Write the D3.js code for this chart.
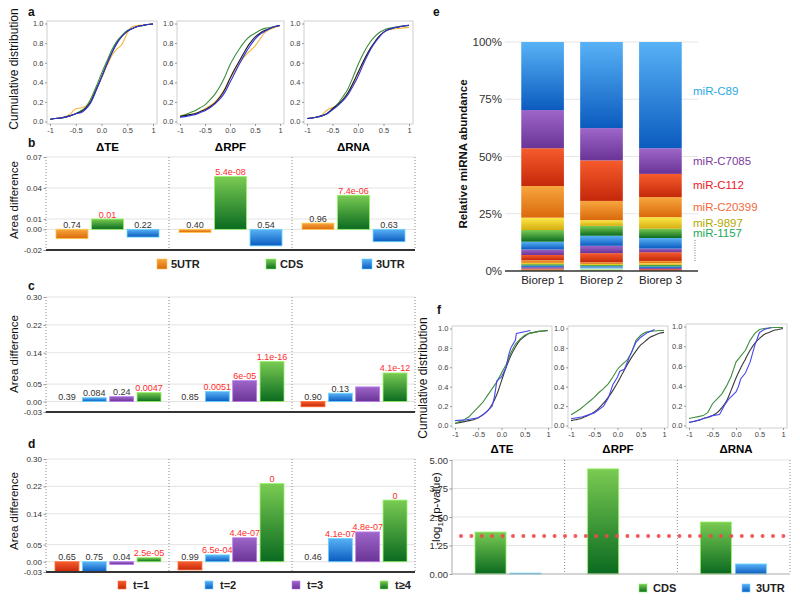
<!DOCTYPE html>
<html><head><meta charset="utf-8">
<script src="https://cdn.jsdelivr.net/npm/d3@7"></script>
<style>body{margin:0;background:#fff;} svg{display:block;}</style>
</head><body>
<script>
// ================= DATA =================
const measures = ["ΔTE","ΔRPF","ΔRNA"];
const cdfGrid = [-1,-0.9,-0.8,-0.7,-0.6,-0.5,-0.4,-0.3,-0.2,-0.1,0,0.1,0.2,0.3,0.4,0.5,0.6,0.7,0.8,0.9,1];
const cdfYTicks = [0,0.2,0.4,0.6,0.8,1];
const cdfXTicks = [-1,-0.5,0,0.5,1];
const cdfXTickLabels = ["-1","-0.5","0.0","0.5","1"];

// panel a (cumulative distributions, values at cdfGrid)
const aTE_orange = [0.02,0.03,0.035,0.05,0.08,0.13,0.14,0.16,0.22,0.33,0.44,0.56,0.67,0.74,0.79,0.90,0.97,0.98,0.985,0.99,0.995];
const aTE_green  = [0.02,0.03,0.035,0.045,0.06,0.08,0.11,0.15,0.24,0.36,0.49,0.61,0.73,0.82,0.88,0.93,0.95,0.97,0.98,0.99,0.995];
const aTE_black  = [0.02,0.03,0.035,0.045,0.06,0.08,0.10,0.14,0.21,0.33,0.45,0.58,0.70,0.80,0.87,0.92,0.95,0.97,0.98,0.99,0.995];
const aTE_blue   = [0.02,0.03,0.035,0.045,0.06,0.08,0.09,0.13,0.20,0.32,0.45,0.58,0.70,0.80,0.87,0.92,0.95,0.97,0.98,0.99,0.995];
const aRPF_orange = [0.06,0.065,0.07,0.085,0.10,0.13,0.16,0.20,0.26,0.34,0.44,0.52,0.60,0.67,0.72,0.77,0.84,0.91,0.94,0.96,0.98];
const aRPF_green  = [0.05,0.07,0.09,0.11,0.14,0.17,0.22,0.28,0.36,0.46,0.58,0.67,0.75,0.82,0.87,0.90,0.93,0.95,0.96,0.97,0.98];
const aRPF_black  = [0.05,0.06,0.07,0.08,0.10,0.12,0.15,0.19,0.25,0.33,0.44,0.54,0.63,0.72,0.80,0.86,0.90,0.93,0.95,0.97,0.98];
const aRPF_blue   = [0.045,0.05,0.06,0.07,0.09,0.11,0.14,0.18,0.23,0.30,0.40,0.50,0.60,0.69,0.77,0.84,0.89,0.92,0.95,0.97,0.98];
const aRNA_orange = [0.03,0.035,0.045,0.07,0.12,0.14,0.17,0.22,0.29,0.38,0.49,0.60,0.70,0.79,0.86,0.91,0.935,0.945,0.95,0.955,0.96];
const aRNA_green  = [0.03,0.035,0.045,0.06,0.085,0.13,0.18,0.25,0.33,0.45,0.58,0.69,0.78,0.85,0.90,0.93,0.95,0.96,0.97,0.975,0.98];
const aRNA_black  = [0.03,0.035,0.045,0.06,0.085,0.13,0.17,0.22,0.29,0.39,0.50,0.61,0.71,0.79,0.86,0.91,0.94,0.955,0.965,0.975,0.98];
const aRNA_blue   = [0.03,0.035,0.045,0.06,0.08,0.12,0.16,0.21,0.27,0.36,0.46,0.58,0.69,0.78,0.85,0.91,0.94,0.955,0.965,0.975,0.985];

// panel b
const regions = ["5UTR","CDS","3UTR"];
const b5UTR = [-0.009,-0.003,0.006];
const bCDS  = [0.010,0.051,0.033];
const b3UTR = [-0.0075,-0.016,-0.012];
const b5UTRLabels = ["0.74","0.40","0.96"];
const bCDSLabels  = ["0.01","5.4e-08","7.4e-06"];
const b3UTRLabels = ["0.22","0.54","0.63"];
const bTicks = [0.07,0.04,0.01,0.00,-0.02];

// panel c
const tClasses = ["t=1","t=2","t=3","t≥4"];
const cT1 = [0,0,-0.015];
const cT2 = [0.011,0.029,0.024];
const cT3 = [0.014,0.060,0.042];
const cT4 = [0.026,0.115,0.082];
const cT1Labels = ["0.39","0.85","0.90"];
const cT2Labels = ["0.084","0.0051","0.13"];
const cT3Labels = ["0.24","6e-05",""];
const cT4Labels = ["0.0047","1.1e-16","4.1e-12"];
const cdTicks = [0.30,0.22,0.14,0.05,0.00,-0.03];

// panel d
const dT1 = [-0.03,-0.024,0];
const dT2 = [-0.03,0.020,0.068];
const dT3 = [-0.008,0.070,0.087];
const dT4 = [0.012,0.228,0.180];
const dT1Labels = ["0.65","0.99","0.46"];
const dT2Labels = ["0.75","6.5e-04","4.1e-07"];
const dT3Labels = ["0.04","4.4e-07","4.8e-07"];
const dT4Labels = ["2.5e-05","0","0"];

// panel e (relative abundance %, top to bottom)
const bioreps = ["Biorep 1","Biorep 2","Biorep 3"];
const segNames = ["miR-C89","miR-C7085","miR-C112","miR-C20399","miR-9897","miR-1157",
  "o1","o2","o3","o4","o5","o6","o7","o8","o9","o10","o11","o12","o13"];
const rep1Shares = [29.7,16.7,16.5,13.8,5.4,5.1,3.4,2.4,2.3,1.1,0.6,0.6,0.7,0.6,0.4,0.4,0.3,0,0];
const rep2Shares = [37.6,14.1,17.7,8.4,2.5,4.3,4.4,3.2,4.0,0.7,0.5,0.5,0.6,0,0,0,0,0.6,0.9];
const rep3Shares = [46.4,11.2,10.1,8.8,5.0,4.1,4.6,1.6,3.8,1.0,0.7,0.7,0.7,0.5,0.4,0.4,0,0,0];
const labelledMiRs = ["miR-C89","miR-C7085","miR-C112","miR-C20399","miR-9897","miR-1157"];
const eTicks = [0,25,50,75,100];

// panel f (cumulative distributions)
const fTE_black  = [0.02,0.03,0.04,0.05,0.06,0.08,0.11,0.15,0.22,0.32,0.46,0.60,0.72,0.81,0.88,0.92,0.95,0.96,0.97,0.975,0.98];
const fTE_green  = [0.02,0.04,0.06,0.09,0.14,0.19,0.24,0.31,0.38,0.45,0.54,0.63,0.75,0.84,0.89,0.93,0.95,0.96,0.97,0.975,0.98];
const fTE_blue   = [[-1,0.05],[-0.75,0.06],[-0.5,0.08],[-0.4,0.11],[-0.3,0.15],[-0.2,0.2],[-0.15,0.3],[-0.1,0.46],[0,0.5],[0.05,0.55],[0.1,0.6],[0.15,0.72],[0.2,0.8],[0.3,0.88],[0.32,0.95],[0.62,0.98]];
const fRPF_black = [0.05,0.06,0.07,0.09,0.11,0.14,0.18,0.23,0.29,0.36,0.44,0.53,0.62,0.70,0.77,0.83,0.87,0.91,0.93,0.95,0.96];
const fRPF_green = [0.11,0.14,0.17,0.21,0.25,0.29,0.34,0.38,0.43,0.50,0.58,0.63,0.67,0.75,0.88,0.93,0.96,0.97,0.975,0.98,0.98];
const fRPF_blue  = [[-1,0.07],[-0.75,0.09],[-0.5,0.13],[-0.3,0.2],[-0.2,0.28],[-0.1,0.42],[0,0.5],[0.05,0.56],[0.15,0.58],[0.25,0.7],[0.4,0.86],[0.5,0.91],[0.65,0.96],[0.8,0.99]];
const fRNA_black = [0.03,0.04,0.05,0.07,0.08,0.10,0.13,0.18,0.25,0.36,0.48,0.58,0.67,0.76,0.83,0.88,0.92,0.94,0.96,0.97,0.98];
const fRNA_green = [0.07,0.08,0.09,0.10,0.13,0.22,0.27,0.32,0.40,0.50,0.64,0.70,0.76,0.86,0.93,0.97,0.98,0.985,0.99,0.99,0.99];
const fRNA_blue  = [[-1,0.03],[-0.75,0.06],[-0.5,0.1],[-0.35,0.11],[-0.25,0.2],[-0.15,0.27],[0,0.34],[0.05,0.39],[0.1,0.47],[0.2,0.53],[0.3,0.64],[0.4,0.81],[0.5,0.94],[0.6,0.97],[0.75,0.99]];

// panel f bars (-log10 p)
const fRegions = ["CDS","3UTR"];
const fCDS  = [1.84,4.61,2.28];
const f3UTR = [0.04,0,0.44];
const fThreshold = 1.67;
const fTicks = [5,3.75,2.5,1.25,0];

// ================= DRAWING =================
const FONT = "'Liberation Sans', Arial, Helvetica, sans-serif";
const svg = d3.select("body").append("svg").attr("width",800).attr("height",602)
  .style("font-family",FONT);
const defs = svg.append("defs");
const gradStops = {
  orange:["#f7a63e","#da690c"], green:["#7acb52","#0a6a20"], blue:["#58b2f6","#0b5bbf"],
  purple:["#9e66c9","#6a3396"], red:["#f65c2c","#c4280a"], yellow:["#fce948","#d5ad10"],
  lightblue:["#c4e6fa","#8cc9ef"], lightgreen:["#d2f0ae","#9fd675"]
};
Object.entries(gradStops).forEach(([k,[c0,c1]])=>{
  const g = defs.append("linearGradient").attr("id","g-"+k).attr("x1",0).attr("y1",0).attr("x2",0).attr("y2",1);
  g.append("stop").attr("offset",0).attr("stop-color",c0);
  g.append("stop").attr("offset",1).attr("stop-color",c1);
});
const seriesColor = {"5UTR":"orange","CDS":"green","3UTR":"blue","t=1":"red","t=2":"blue","t=3":"purple","t≥4":"green"};
const edgeOf = k => d3.color(gradStops[k][0]).brighter(0.5).formatHex();

function styleAxis(a, fs){
  a.attr("font-family",FONT).attr("font-size",fs);
  a.select(".domain").remove();
  a.selectAll(".tick line").attr("stroke","#999");
  a.selectAll(".tick text").attr("fill","#444");
}

// ---- CDF plots ----
function cdfPlot(fx0,fx1,fy0,fy1,lines){
  const x = d3.scaleLinear().domain([-1,1]).range([fx0+3, fx1-4]);
  const y = d3.scaleLinear().domain([0,1]).range([fy1-2.5, fy0+2.5]);
  const g = svg.append("g");
  g.append("rect").attr("x",fx0).attr("y",fy0).attr("width",fx1-fx0).attr("height",fy1-fy0)
    .attr("fill","none").attr("stroke","#cfcfcf");
  const ya = g.append("g").attr("transform",`translate(${fx0},0)`)
    .call(d3.axisLeft(y).tickValues(cdfYTicks).tickFormat(d3.format(".1f")).tickSize(2).tickPadding(1.5));
  const xa = g.append("g").attr("transform",`translate(0,${fy1})`)
    .call(d3.axisBottom(x).tickValues(cdfXTicks).tickFormat((d,i)=>cdfXTickLabels[i]).tickSize(2).tickPadding(2));
  styleAxis(ya,7.5); styleAxis(xa,7.5);
  const line = d3.line().x(d=>x(d[0])).y(d=>y(d[1]));
  lines.forEach(l=>{
    g.append("path").datum(l.pts).attr("d",line.curve(l.curve)).attr("fill","none")
      .attr("stroke",l.color).attr("stroke-width",1.1);
  });
}
const cOrange="#f5b53c", cGreen="#3b8f3b", cBlack="#1a1a1a", cBlue="#3535e0";
const smooth = d3.curveMonotoneX, sharp = d3.curveLinear;
const A = (arr)=>d3.zip(cdfGrid,arr);
cdfPlot(47,157,21,124,[
  {pts:A(aTE_orange),color:cOrange,curve:smooth},{pts:A(aTE_green),color:cGreen,curve:smooth},
  {pts:A(aTE_black),color:cBlack,curve:smooth},{pts:A(aTE_blue),color:cBlue,curve:smooth}]);
cdfPlot(177,284,21,124,[
  {pts:A(aRPF_orange),color:cOrange,curve:smooth},{pts:A(aRPF_green),color:cGreen,curve:smooth},
  {pts:A(aRPF_black),color:cBlack,curve:smooth},{pts:A(aRPF_blue),color:cBlue,curve:smooth}]);
cdfPlot(304,413,21,124,[
  {pts:A(aRNA_orange),color:cOrange,curve:smooth},{pts:A(aRNA_green),color:cGreen,curve:smooth},
  {pts:A(aRNA_black),color:cBlack,curve:smooth},{pts:A(aRNA_blue),color:cBlue,curve:smooth}]);

const fBlack="#3a3a3a", fGreen="#3f8f3f", fBlue="#4646f0";
cdfPlot(452,552,326,428,[
  {pts:A(fTE_black),color:fBlack,curve:smooth},{pts:A(fTE_green),color:fGreen,curve:sharp},
  {pts:fTE_blue,color:fBlue,curve:sharp}]);
cdfPlot(568,668,326,428,[
  {pts:A(fRPF_black),color:fBlack,curve:smooth},{pts:A(fRPF_green),color:fGreen,curve:sharp},
  {pts:fRPF_blue,color:fBlue,curve:sharp}]);
cdfPlot(686,787,324,428,[
  {pts:A(fRNA_black),color:fBlack,curve:smooth},{pts:A(fRNA_green),color:fGreen,curve:sharp},
  {pts:fRNA_blue,color:fBlue,curve:sharp}]);

// ---- bar panels ----
function barPanel(o){
  const y = d3.scaleLinear().domain(o.domain).range([o.yb,o.yt]);
  const gx = d3.scaleBand().domain(measures).range([o.x0,o.x1]);
  const ix = d3.scaleBand().domain(o.series).range(o.inner).paddingInner(o.pad);
  const g = svg.append("g");
  g.selectAll(null).data(o.ticks.filter(t=>t!==o.domain[0])).join("line")
    .attr("x1",o.x0).attr("x2",o.x1).attr("y1",d=>y(d)).attr("y2",d=>y(d))
    .attr("stroke","#e3e3e3");
  const seps = measures.map(m=>gx(m)).concat([o.x1]).filter((d,i)=>!(o.leftSolid && i===0));
  g.selectAll(null).data(seps).join("line")
    .attr("x1",d=>d).attr("x2",d=>d).attr("y1",o.yt).attr("y2",o.yb)
    .attr("stroke","#8a8a8a").attr("stroke-dasharray","1,2");
  if(o.leftSolid) g.append("line").attr("x1",o.x0).attr("x2",o.x0).attr("y1",o.yt).attr("y2",o.yb).attr("stroke","#aaa");
  const ax = g.append("g").attr("transform",`translate(${o.x0},0)`)
    .call(d3.axisLeft(y).tickValues(o.ticks).tickFormat(d=>d.toFixed(2)).tickSize(2.5).tickPadding(1.5));
  styleAxis(ax,o.tickSize);
  ax.selectAll(".tick text").attr("fill","#333");
  o.series.forEach((s,si)=>{
    const data = measures.map((m,i)=>({m, v:o.values[si][i], lab:o.labels ? o.labels[si][i] : ""}));
    const ck = seriesColor[s];
    g.selectAll(null).data(data.filter(d=>d.v!==0)).join("rect")
      .attr("x",d=>gx(d.m)+ix(s)).attr("width",ix.bandwidth())
      .attr("y",d=>y(Math.max(0,d.v))).attr("height",d=>Math.abs(y(d.v)-y(0)))
      .attr("fill",`url(#g-${ck})`).attr("stroke",edgeOf(ck)).attr("stroke-width",0.8);
    g.selectAll(null).data(data.filter(d=>d.lab!=="")).join("text")
      .attr("x",d=>gx(d.m)+ix(s)+ix.bandwidth()/2)
      .attr("y",d=>Math.min(y(d.v),y(0))-1.5)
      .attr("text-anchor","middle").attr("font-size",9)
      .attr("fill",d=>(+d.lab<=0.01)?"#ff2b2b":"#333").text(d=>d.lab);
  });
  g.append("line").attr("x1",o.x0).attr("x2",o.x1).attr("y1",o.yb).attr("y2",o.yb)
    .attr("stroke",o.axisColor).attr("stroke-width",o.axisWidth);
  return gx;
}

const bgx = barPanel({x0:46,x1:415,yt:157,yb:250,domain:[-0.02,0.07],ticks:bTicks,tickSize:8,
  series:regions,values:[b5UTR,bCDS,b3UTR],labels:[b5UTRLabels,bCDSLabels,b3UTRLabels],
  inner:[10,113],pad:0.1,axisColor:"#333",axisWidth:2});
barPanel({x0:46,x1:415,yt:297,yb:412,domain:[-0.03,0.30],ticks:cdTicks,tickSize:8,
  series:tClasses,values:[cT1,cT2,cT3,cT4],labels:[cT1Labels,cT2Labels,cT3Labels,cT4Labels],
  inner:[9,115],pad:0.124,axisColor:"#333",axisWidth:2});
barPanel({x0:46,x1:415,yt:459,yb:572,domain:[-0.03,0.30],ticks:cdTicks,tickSize:8,
  series:tClasses,values:[dT1,dT2,dT3,dT4],labels:[dT1Labels,dT2Labels,dT3Labels,dT4Labels],
  inner:[9,115],pad:0.124,axisColor:"#333",axisWidth:2});
const fgx = barPanel({x0:452,x1:790,yt:460,yb:574,domain:[0,5],ticks:fTicks,tickSize:9.5,
  series:fRegions,values:[fCDS,f3UTR],labels:null,leftSolid:true,
  inner:[23,89],pad:0.114,axisColor:"#aaa",axisWidth:1});
// threshold dots
const fy = d3.scaleLinear().domain([0,5]).range([574,460]);
svg.append("line").attr("x1",461).attr("x2",790).attr("y1",fy(fThreshold)).attr("y2",fy(fThreshold))
  .attr("stroke","#f04a4a").attr("stroke-width",4).attr("stroke-linecap","round")
  .attr("stroke-dasharray","0,10.4").attr("opacity",0.9);

// titles
svg.selectAll(null).data(measures).join("text")
  .attr("x",d=>bgx(d)+bgx.bandwidth()/2).attr("y",151).attr("text-anchor","middle")
  .attr("font-weight","bold").attr("font-size",11.5).text(d=>d);
const fTitleX = [502,618,736];
svg.selectAll(null).data(measures).join("text")
  .attr("x",(d,i)=>fTitleX[i]).attr("y",453).attr("text-anchor","middle")
  .attr("font-weight","bold").attr("font-size",11.5).text(d=>d);

// legends
function legend(items, xs, yc, sz, gap){
  items.forEach((s,i)=>{
    svg.append("rect").attr("x",xs[i]).attr("y",yc-sz/2).attr("width",sz).attr("height",sz)
      .attr("fill",`url(#g-${seriesColor[s]})`).attr("stroke",edgeOf(seriesColor[s])).attr("stroke-width",0.6);
    svg.append("text").attr("x",xs[i]+sz+gap).attr("y",yc+4).attr("font-weight","bold")
      .attr("font-size",11).attr("fill","#222").text(s);
  });
}
legend(regions,[157,266,362],264,10,4);
legend(tClasses,[118,205,292,380],585,8,7);
legend(fRegions,[639,742],588,8,6);

// ---- panel e ----
const eY = d3.scaleLinear().domain([0,100]).range([271,42]);
const eX = d3.scaleBand().domain(bioreps).range([505,698]).padding(0.276);
const segColor = d3.scaleOrdinal(segNames,["blue","purple","red","orange","yellow","green",
  "blue","purple","red","orange","yellow","green","blue","purple","red","orange","green","lightblue","lightgreen"]);
const repShares = [rep1Shares,rep2Shares,rep3Shares];
const rows = bioreps.map((b,i)=>{const r={rep:b}; segNames.forEach((k,j)=>r[k]=repShares[i][j]); return r;});
const stacked = d3.stack().keys(segNames.slice().reverse())(rows);
const eg = svg.append("g");
eg.selectAll(null).data(eTicks.filter(t=>t>0)).join("line")
  .attr("x1",505).attr("x2",698).attr("y1",d=>eY(d)).attr("y2",d=>eY(d)).attr("stroke","#e6e6e6").attr("stroke-width",1.2);
stacked.forEach(layer=>{
  eg.selectAll(null).data(layer.filter(d=>d[1]-d[0]>0)).join("rect")
    .attr("x",d=>eX(d.data.rep)).attr("width",eX.bandwidth())
    .attr("y",d=>eY(d[1])).attr("height",d=>eY(d[0])-eY(d[1]))
    .attr("fill",`url(#g-${segColor(layer.key)})`);
});
eg.append("line").attr("x1",505).attr("x2",698).attr("y1",eY(0)).attr("y2",eY(0)).attr("stroke","#333").attr("stroke-width",1.5);
const eax = eg.append("g").attr("transform","translate(505,0)")
  .call(d3.axisLeft(eY).tickValues(eTicks).tickFormat(d=>d+"%").tickSize(0).tickPadding(3));
styleAxis(eax,11.5); eax.selectAll(".tick text").attr("fill","#333");
eg.selectAll(null).data(bioreps).join("text")
  .attr("x",d=>eX(d)+eX.bandwidth()/2).attr("y",284).attr("text-anchor","middle")
  .attr("font-size",11.5).attr("fill","#222").text(d=>d);
const labColors = {"miR-C89":"#2aaae2","miR-C7085":"#7d3c9e","miR-C112":"#e8202a",
  "miR-C20399":"#f2693a","miR-9897":"#b3a900","miR-1157":"#1ea85a"};
const rep3Layers = stacked.map(l=>({key:l.key, d:l[2]}));
labelledMiRs.forEach(name=>{
  const L = rep3Layers.find(l=>l.key===name);
  let yc = (eY(L.d[0])+eY(L.d[1]))/2;
  if(name==="miR-C89") yc -= 4;
  eg.append("text").attr("x",693).attr("y",yc+4).attr("font-size",11.5)
    .attr("fill",labColors[name]).text(name);
});
eg.append("line").attr("x1",695).attr("x2",695).attr("y1",240).attr("y2",262)
  .attr("stroke","#777").attr("stroke-dasharray","1,1.5");

// ---- axis titles ----
function vtext(x,y,txt,fs,bold){
  return svg.append("text").attr("transform",`translate(${x},${y}) rotate(-90)`)
    .attr("text-anchor","middle").attr("font-size",fs).attr("font-weight",bold?"bold":"normal")
    .attr("fill","#111").text(txt);
}
vtext(18,69,"Cumulative distribution",12);
vtext(18,200,"Area difference",11.5);
vtext(18,354,"Area difference",11.5);
vtext(18,511,"Area difference",11.5);
vtext(467,154,"Relative miRNA abundance",11.5,true);
vtext(427,378,"Cumulative distribution",12);
const lg = vtext(440,509,"",11.5);
lg.append("tspan").text("-log");
lg.append("tspan").attr("font-size",8).attr("dy",3).text("10");
lg.append("tspan").attr("dy",-3).text("(p-value)");

// panel letters
[["a",28,16],["b",28,147],["c",28,290],["d",28,448],["e",433,16],["f",437,314]].forEach(([t,x,y])=>{
  svg.append("text").attr("x",x).attr("y",y).attr("font-weight","bold").attr("font-size",12).attr("fill","#111").text(t);
});
</script>
</body></html>
